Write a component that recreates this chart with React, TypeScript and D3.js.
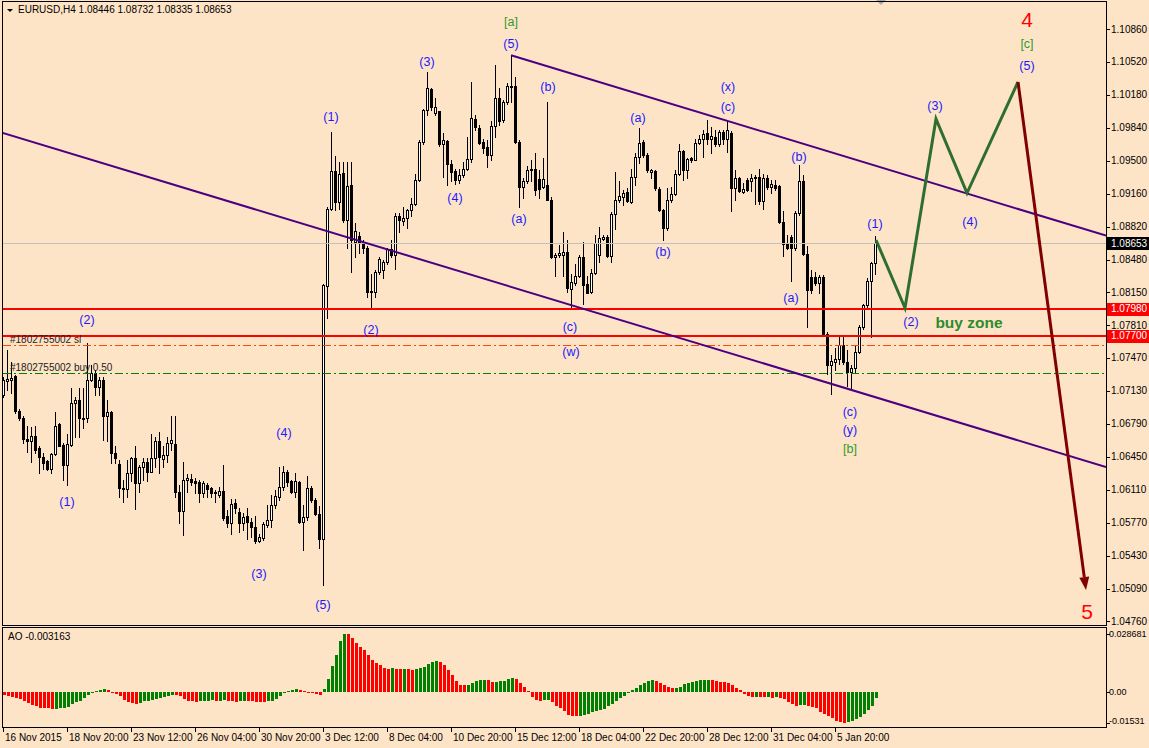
import React from 'react';
import * as d3 from 'd3';

const W = 1149;
const H = 748;
const FONT = "'Liberation Sans', Arial, sans-serif";

// EURUSD H4 bars, [open, high, low, close], 16 Nov 2015 .. 6 Jan 2016
const CANDLES: [number, number, number, number][] = [
  [1.0709, 1.0727, 1.0707, 1.0724], [1.0723, 1.0755, 1.0714, 1.0725], [1.0724, 1.0743, 1.0711, 1.0726],
  [1.0728, 1.0729, 1.069, 1.0692], [1.0692, 1.0694, 1.0683, 1.0685], [1.0685, 1.0687, 1.0659, 1.0664],
  [1.0664, 1.0677, 1.065, 1.0661], [1.0661, 1.0676, 1.064, 1.0667], [1.0667, 1.0677, 1.0649, 1.0652],
  [1.0654, 1.0656, 1.0629, 1.0645], [1.0645, 1.0649, 1.0633, 1.0639], [1.0641, 1.0642, 1.0632, 1.0633],
  [1.0633, 1.0649, 1.0629, 1.0648], [1.0648, 1.0691, 1.0647, 1.0677], [1.0679, 1.068, 1.0656, 1.0656],
  [1.0657, 1.0659, 1.0621, 1.0637], [1.0637, 1.0669, 1.0616, 1.0658], [1.0657, 1.0716, 1.0656, 1.0701],
  [1.0701, 1.0707, 1.0666, 1.0704], [1.0704, 1.0716, 1.0666, 1.0685], [1.0685, 1.0716, 1.0675, 1.0684],
  [1.0685, 1.0762, 1.0681, 1.0724], [1.0724, 1.074, 1.0723, 1.0732], [1.0732, 1.0735, 1.0709, 1.0717],
  [1.0717, 1.0727, 1.0709, 1.0724], [1.0724, 1.0727, 1.0663, 1.0687], [1.0687, 1.0704, 1.0661, 1.0691],
  [1.0691, 1.0692, 1.0639, 1.0649], [1.0649, 1.0656, 1.0639, 1.0644], [1.0638, 1.0642, 1.0604, 1.0613],
  [1.0613, 1.0621, 1.0599, 1.0612], [1.0612, 1.0642, 1.0604, 1.0629], [1.0629, 1.0645, 1.062, 1.0644],
  [1.0644, 1.0656, 1.0591, 1.0618], [1.0618, 1.0637, 1.0609, 1.0635], [1.0635, 1.0644, 1.0621, 1.064],
  [1.064, 1.0644, 1.062, 1.063], [1.063, 1.0669, 1.063, 1.0644], [1.0644, 1.0666, 1.0635, 1.0661],
  [1.0661, 1.0671, 1.0628, 1.0645], [1.0643, 1.0656, 1.0635, 1.0647], [1.0647, 1.0666, 1.064, 1.0659],
  [1.0659, 1.0687, 1.0652, 1.0663], [1.0658, 1.0687, 1.0604, 1.0609], [1.0609, 1.0616, 1.0577, 1.0589],
  [1.0589, 1.064, 1.0565, 1.0621], [1.0621, 1.0627, 1.0609, 1.0623], [1.0622, 1.0627, 1.0616, 1.0619],
  [1.062, 1.0623, 1.0608, 1.0618], [1.0619, 1.0621, 1.0599, 1.0608], [1.0608, 1.062, 1.0604, 1.0618],
  [1.0616, 1.0618, 1.0604, 1.0612], [1.0613, 1.0614, 1.0604, 1.0608], [1.0609, 1.0611, 1.0599, 1.0608],
  [1.0606, 1.0614, 1.0604, 1.061], [1.061, 1.0637, 1.058, 1.0582], [1.0584, 1.059, 1.0573, 1.0577],
  [1.0577, 1.0602, 1.0566, 1.0597], [1.0598, 1.0602, 1.0587, 1.0592], [1.0588, 1.0592, 1.0568, 1.0577],
  [1.0577, 1.0587, 1.057, 1.0583], [1.0584, 1.0592, 1.0561, 1.0578], [1.0578, 1.0582, 1.0563, 1.0573],
  [1.0573, 1.0584, 1.0556, 1.0558], [1.0558, 1.0566, 1.0557, 1.0563], [1.0562, 1.0578, 1.0559, 1.0576],
  [1.0575, 1.0596, 1.0573, 1.058], [1.058, 1.0606, 1.0573, 1.0596], [1.0596, 1.0611, 1.0592, 1.0605],
  [1.0604, 1.0635, 1.0601, 1.0614], [1.0614, 1.0636, 1.0611, 1.063], [1.063, 1.0632, 1.0615, 1.0619],
  [1.062, 1.0621, 1.0608, 1.0609], [1.0609, 1.0628, 1.0604, 1.062], [1.0619, 1.062, 1.0577, 1.0578],
  [1.0578, 1.0596, 1.0549, 1.0583], [1.0583, 1.0625, 1.058, 1.0613], [1.0613, 1.0615, 1.0599, 1.0601],
  [1.0601, 1.0603, 1.0585, 1.0586], [1.0586, 1.0594, 1.0551, 1.056], [1.056, 1.0823, 1.0513, 1.0822],
  [1.0821, 1.0903, 1.0788, 1.0901], [1.0901, 1.098, 1.0899, 1.094], [1.094, 1.0955, 1.0899, 1.0908],
  [1.0908, 1.0949, 1.0901, 1.0937], [1.0938, 1.0949, 1.0887, 1.0889], [1.0889, 1.0949, 1.086, 1.0924],
  [1.0925, 1.0949, 1.0836, 1.0869], [1.0867, 1.0886, 1.0851, 1.0878], [1.0873, 1.0877, 1.0855, 1.0865],
  [1.0867, 1.0869, 1.0855, 1.086], [1.086, 1.0862, 1.081, 1.0815], [1.0815, 1.0834, 1.0797, 1.0816],
  [1.0815, 1.0838, 1.081, 1.0836], [1.0836, 1.0851, 1.0834, 1.0849], [1.0838, 1.0848, 1.0829, 1.0846],
  [1.0846, 1.086, 1.0844, 1.0859], [1.0859, 1.0869, 1.0851, 1.0853], [1.0853, 1.0896, 1.0839, 1.0893],
  [1.0893, 1.0896, 1.0877, 1.0889], [1.0888, 1.0903, 1.0884, 1.0891], [1.0891, 1.0901, 1.0881, 1.0899],
  [1.0899, 1.0912, 1.0893, 1.0906], [1.0906, 1.0937, 1.0905, 1.093], [1.093, 1.0972, 1.0929, 1.097],
  [1.097, 1.1004, 1.0968, 1.1003], [1.1003, 1.1042, 1.0997, 1.1025], [1.1024, 1.1025, 1.1003, 1.1006],
  [1.0999, 1.1015, 1.0997, 1.1006], [1.1001, 1.1002, 1.0965, 1.0967], [1.0967, 1.0979, 1.0934, 1.0972],
  [1.0971, 1.0972, 1.0925, 1.0947], [1.0947, 1.0951, 1.0929, 1.0939], [1.094, 1.0942, 1.0926, 1.093],
  [1.093, 1.0942, 1.0927, 1.0936], [1.0936, 1.0949, 1.0934, 1.0942], [1.0942, 1.0975, 1.0941, 1.0952],
  [1.0952, 1.1031, 1.0949, 1.0994], [1.0993, 1.0997, 1.0982, 1.0985], [1.0984, 1.0987, 1.0967, 1.0969],
  [1.097, 1.0973, 1.0958, 1.0963], [1.0964, 1.0972, 1.0944, 1.0956], [1.0956, 1.0991, 1.0951, 1.0986],
  [1.0986, 1.1049, 1.0975, 1.1015], [1.1015, 1.1025, 1.0987, 1.0991], [1.0992, 1.1013, 1.099, 1.1011],
  [1.1011, 1.103, 1.1009, 1.1027], [1.1027, 1.1058, 1.1011, 1.1026], [1.1027, 1.1037, 1.0969, 1.097],
  [1.097, 1.0972, 1.0903, 1.0923], [1.0923, 1.0932, 1.0912, 1.0929], [1.0929, 1.0945, 1.0927, 1.0941],
  [1.0941, 1.0951, 1.0929, 1.0942], [1.0942, 1.0958, 1.0915, 1.092], [1.0931, 1.0941, 1.0912, 1.0921],
  [1.0923, 1.0953, 1.0922, 1.0931], [1.0925, 1.1011, 1.091, 1.091], [1.091, 1.0913, 1.085, 1.0851],
  [1.0851, 1.0855, 1.0831, 1.0853], [1.0853, 1.0863, 1.0851, 1.0855], [1.0853, 1.0877, 1.0831, 1.0856],
  [1.0856, 1.0869, 1.0815, 1.0819], [1.0818, 1.0834, 1.08, 1.0825], [1.0824, 1.0844, 1.0822, 1.0832],
  [1.0832, 1.0853, 1.083, 1.0851], [1.0851, 1.0867, 1.0803, 1.0822], [1.0823, 1.0831, 1.0814, 1.0814],
  [1.0815, 1.0839, 1.0814, 1.0835], [1.0835, 1.0874, 1.0834, 1.0866], [1.0853, 1.0882, 1.0846, 1.0871],
  [1.087, 1.0874, 1.0869, 1.0872], [1.0872, 1.0874, 1.0851, 1.0852], [1.0852, 1.0897, 1.0846, 1.0895],
  [1.0895, 1.0939, 1.088, 1.091], [1.091, 1.0929, 1.0908, 1.0914], [1.0913, 1.092, 1.0905, 1.0917],
  [1.0918, 1.0922, 1.0908, 1.0909], [1.0908, 1.0942, 1.0907, 1.0934], [1.0934, 1.0958, 1.0925, 1.0954],
  [1.0954, 1.0984, 1.0948, 1.0969], [1.097, 1.0972, 1.0954, 1.0956], [1.0956, 1.0958, 1.0939, 1.0941],
  [1.0939, 1.0942, 1.0932, 1.0941], [1.094, 1.0941, 1.092, 1.0922], [1.0921, 1.0923, 1.0898, 1.0899],
  [1.0899, 1.0901, 1.0869, 1.0881], [1.0881, 1.0922, 1.0879, 1.091], [1.091, 1.0923, 1.0908, 1.0916],
  [1.0916, 1.0941, 1.0915, 1.0937], [1.0937, 1.0968, 1.0936, 1.096], [1.096, 1.0961, 1.093, 1.0941],
  [1.0941, 1.0953, 1.0932, 1.0952], [1.0953, 1.0954, 1.0949, 1.0951], [1.0951, 1.0973, 1.0951, 1.0969],
  [1.0969, 1.0977, 1.0967, 1.0973], [1.0973, 1.0982, 1.0954, 1.0978], [1.0979, 1.0992, 1.0967, 1.0973],
  [1.0973, 1.0985, 1.0958, 1.0976], [1.0975, 1.0982, 1.0965, 1.0967], [1.0967, 1.0982, 1.0965, 1.098],
  [1.098, 1.0982, 1.0967, 1.0973], [1.0973, 1.0992, 1.0959, 1.0982], [1.0979, 1.0981, 1.0898, 1.0922],
  [1.0922, 1.0941, 1.091, 1.0932], [1.0932, 1.0933, 1.0918, 1.0919], [1.0918, 1.0927, 1.0917, 1.0921],
  [1.093, 1.0932, 1.0919, 1.092], [1.0929, 1.0937, 1.0919, 1.0932], [1.0932, 1.0936, 1.0906, 1.0934],
  [1.0934, 1.0942, 1.0906, 1.0909], [1.0909, 1.0937, 1.0901, 1.0932], [1.0932, 1.0936, 1.0921, 1.0923],
  [1.0923, 1.093, 1.0917, 1.0926], [1.0925, 1.093, 1.092, 1.0922], [1.0924, 1.0925, 1.0886, 1.0887],
  [1.0887, 1.0898, 1.0852, 1.0864], [1.0865, 1.0874, 1.0859, 1.086], [1.0872, 1.0874, 1.0826, 1.086],
  [1.086, 1.0898, 1.0858, 1.0896], [1.0896, 1.0946, 1.0894, 1.0929], [1.0929, 1.0936, 1.0853, 1.0854],
  [1.0854, 1.0862, 1.0779, 1.0817], [1.083, 1.0838, 1.0814, 1.0817], [1.083, 1.0836, 1.0822, 1.0824],
  [1.0824, 1.0833, 1.0814, 1.083], [1.083, 1.0833, 1.0771, 1.0771], [1.0772, 1.0774, 1.0731, 1.074],
  [1.074, 1.075, 1.071, 1.0744], [1.0743, 1.0757, 1.0735, 1.0746], [1.0746, 1.0771, 1.0741, 1.076],
  [1.076, 1.0771, 1.0741, 1.0743], [1.0743, 1.0755, 1.0718, 1.0733], [1.0733, 1.074, 1.0714, 1.0737],
  [1.0737, 1.0759, 1.0733, 1.0753], [1.0753, 1.0781, 1.0752, 1.0779], [1.0779, 1.0803, 1.0777, 1.0802],
  [1.0802, 1.0829, 1.08, 1.0826], [1.0826, 1.0846, 1.0769, 1.0845], [1.08446, 1.08732, 1.08335, 1.08653],
];

// Awesome Oscillator, one value per bar
const AO = [
  -0.0013, -0.00211, -0.00259, -0.00308, -0.00324, -0.00421, -0.00535, -0.00648, -0.00713, -0.00778,
  -0.00794, -0.0081, -0.00859, -0.00826, -0.0081, -0.00778, -0.00729, -0.00616, -0.00486, -0.00421,
  -0.00292, -0.00162, -0.00065, 0.00065, 0.00097, 0.00146, 0.00097, -0.0001, -0.00097, -0.00211,
  -0.00373, -0.00486, -0.00551, -0.00616, -0.00518, -0.00454, -0.00421, -0.00373, -0.00324, -0.00292,
  -0.00259, -0.00211, -0.0013, -0.00162, -0.00211, -0.00324, -0.00421, -0.00454, -0.00486, -0.00454,
  -0.00437, -0.00421, -0.00405, -0.00437, -0.00421, -0.00405, -0.00437, -0.00454, -0.0047, -0.00437,
  -0.00421, -0.00437, -0.00454, -0.0047, -0.00486, -0.00494, -0.00454, -0.00421, -0.00324, -0.00194,
  -0.00049, 0.00049, 0.00097, 0.0013, 0.00097, 0.00032, -0.00032, -0.00049, -0.00081, -0.0013,
  0.00146, 0.00632, 0.01264, 0.01847, 0.02527, 0.02868, 0.02851, 0.02673, 0.0243, 0.02236,
  0.02074, 0.01847, 0.01604, 0.01458, 0.01312, 0.01199, 0.01118, 0.01166, 0.01134, 0.01118,
  0.01134, 0.01118, 0.01102, 0.01118, 0.01166, 0.01215, 0.01409, 0.01507, 0.01555, 0.01507,
  0.01312, 0.01069, 0.00826, 0.00535, 0.0034, 0.00324, 0.00356, 0.00437, 0.00535, 0.00583,
  0.00599, 0.00583, 0.00486, 0.00518, 0.00535, 0.00551, 0.00632, 0.0068, 0.00632, 0.00437,
  0.00243, 0.00049, -0.00243, -0.00389, -0.00437, -0.00389, -0.00373, -0.00486, -0.0068, -0.00778,
  -0.00923, -0.01118, -0.01166, -0.01183, -0.01166, -0.01118, -0.01069, -0.01004, -0.00956, -0.00907,
  -0.00842, -0.0068, -0.00583, -0.00421, -0.00292, -0.00194, -0.00049, 0.00097, 0.00194, 0.0034,
  0.00437, 0.00535, 0.00583, 0.00567, 0.00437, 0.0034, 0.00243, 0.00194, 0.00211, 0.00243,
  0.00389, 0.00437, 0.00486, 0.00535, 0.00583, 0.00591, 0.00599, 0.00583, 0.00535, 0.00518,
  0.00486, 0.00437, 0.0034, 0.00194, 0.00097, -0.00097, -0.00194, -0.00243, -0.00227, -0.00243,
  -0.00251, -0.00227, -0.00292, -0.00243, -0.00292, -0.0034, -0.00486, -0.00583, -0.0068, -0.00664,
  -0.00632, -0.0068, -0.00729, -0.00778, -0.00972, -0.01069, -0.01166, -0.01264, -0.01409, -0.01458,
  -0.01531, -0.0149, -0.01409, -0.01312, -0.01215, -0.01069, -0.00875, -0.0068, -0.00316,
];

const PRICE_TICKS = [
  1.1086, 1.1052, 1.1018, 1.0984, 1.095, 1.0916, 1.0882, 1.0848, 1.0815, 1.0781,
  1.0747, 1.0713, 1.0679, 1.0645, 1.0611, 1.0577, 1.0543, 1.0509, 1.0476,
];
const TIME_TICK_BARS = [0, 16, 32, 48, 64, 80, 96, 112, 128, 144, 160, 176, 192, 208];
const TIME_TICK_LABELS = [
  '16 Nov 2015', '18 Nov 20:00', '23 Nov 12:00', '26 Nov 04:00', '30 Nov 20:00', '3 Dec 12:00',
  '8 Dec 04:00', '10 Dec 20:00', '15 Dec 12:00', '18 Dec 04:00', '22 Dec 20:00', '28 Dec 12:00',
  '31 Dec 04:00', '5 Jan 20:00',
];
const AO_TICKS = [0.028681, 0, -0.01531];
const AO_TICK_LABELS = ['0.028681', '0.00', '-0.01531'];

const LAST_PRICE = 1.08653;
const BUY_ZONE = [1.0798, 1.077];
const ORDER_SL = 1.07604;
const ORDER_BUY = 1.07316;

// trend channel anchors [bar, price]
const LOWER_CHANNEL: [number, number][] = [[0, 1.09788], [142, 1.08016]];
const UPPER_CHANNEL: [number, number][] = [[127, 1.1059], [181, 1.09915]];
// projected wave path and final arrow [bar, price]
const PROJECTION: [number, number][] = [[218.25, 1.08686], [225.5, 1.07985], [233.25, 1.09933], [241, 1.0917], [253.75, 1.10314]];
const TARGET_ARROW: [number, number][] = [[253.75, 1.10314], [270.75, 1.05079]];

// wave labels [text, bar, price]
const BLUE_LABELS: [string, number, number][] = [
  ['(5)', 127, 1.10705], ['(3)', 106, 1.1052], ['(1)', 82, 1.09953], ['(b)', 136.25, 1.10262],
  ['(x)', 181.25, 1.10262], ['(c)', 181.25, 1.10056], ['(a)', 158.75, 1.09943], ['(b)', 199, 1.09541],
  ['(4)', 113, 1.09119], ['(a)', 129, 1.08902], ['(b)', 165, 1.08562], ['(1)', 218, 1.08851],
  ['(4)', 241.75, 1.08871], ['(3)', 233, 1.10067], ['(5)', 256, 1.10479], ['(a)', 197, 1.08088],
  ['(2)', 227, 1.07841], ['(2)', 92, 1.07758], ['(c)', 141.75, 1.07789], ['(w)', 142, 1.07532],
  ['(2)', 21, 1.07862], ['(c)', 211.75, 1.06914], ['(y)', 211.75, 1.06728], ['(4)', 70.25, 1.06697],
  ['(1)', 16, 1.05986], ['(3)', 64, 1.05244], ['(5)', 80, 1.04925],
];
const GREEN_LABELS: [string, number, number][] = [
  ['[a]', 127, 1.10932], ['[c]', 256, 1.10705], ['[b]', 211.75, 1.06532],
];
const RED_LABELS: [string, number, number][] = [['4', 256, 1.10953], ['5', 271, 1.04863]];

const PLOT_RIGHT = 1106;
const MAIN_BOTTOM = 625;
const AO_TOP = 627;
const AO_BOTTOM = 727;

const x = d3.scaleLinear().domain([0, 1]).range([3, 7]);
const y = d3.scaleLinear().domain([1.0476, 1.1086]).range([621, 29]);
const aoY = d3.scaleLinear().domain([-0.01531, 0.028681]).range([723, 634]);

const extendLine = (pts: [number, number][], from: number, to: number): [number, number][] => {
  const [[b0, p0], [b1, p1]] = pts;
  const k = (p1 - p0) / (b1 - b0);
  return [[from, p0 + k * (from - b0)], [to, p0 + k * (to - b0)]];
};

const line = d3.line<[number, number]>().x((d) => x(d[0])).y((d) => y(d[1]));

export default function App() {
  const rightBar = x.invert(PLOT_RIGHT);
  const lower = extendLine(LOWER_CHANNEL, x.invert(0), rightBar);
  const upper = extendLine(UPPER_CHANNEL, UPPER_CHANNEL[0][0], rightBar);

  const [a0, a1] = TARGET_ARROW;
  const ax0 = x(a0[0]), ay0 = y(a0[1]), ax1 = x(a1[0]), ay1 = y(a1[1]);
  const ang = Math.atan2(ay1 - ay0, ax1 - ax0);
  const headLen = 13, headW = 5;
  const bx = ax1 - headLen * Math.cos(ang), by = ay1 - headLen * Math.sin(ang);
  const head = [
    [ax1, ay1],
    [bx + headW * Math.sin(ang), by - headW * Math.cos(ang)],
    [bx - headW * Math.sin(ang), by + headW * Math.cos(ang)],
  ].map((p) => p.join(',')).join(' ');

  const hline = (price: number) => Math.round(y(price)) + 0.5;

  return (
    <div style={{ position: 'absolute', left: 0, top: 0 }}>
      <svg width={W} height={H} style={{ display: 'block', fontFamily: FONT }}>
        <rect width={W} height={H} fill="#fee4c6" />
        <defs>
          <clipPath id="main-clip">
            <rect x={3} y={2} width={PLOT_RIGHT - 3} height={MAIN_BOTTOM - 2} />
          </clipPath>
        </defs>

        {/* candles */}
        <g shapeRendering="crispEdges">
          {CANDLES.map(([o, h, l, c], i) => {
            const px = Math.round(x(i));
            const top = Math.round(y(Math.max(o, c)));
            const bot = Math.round(y(Math.min(o, c)));
            const bull = c >= o;
            return (
              <g key={i}>
                <line x1={px + 0.5} x2={px + 0.5} y1={Math.round(y(h))} y2={Math.round(y(l)) + 1} stroke="#000" />
                <rect x={px - 0.5} y={top + 0.5} width={2} height={Math.max(0, bot - top)}
                  fill={bull ? '#fff' : '#000'} stroke="#000" />
              </g>
            );
          })}
        </g>

        {/* horizontal levels */}
        <g shapeRendering="crispEdges">
          <line x1={3} x2={PLOT_RIGHT} y1={hline(LAST_PRICE)} y2={hline(LAST_PRICE)} stroke="#c0c0c0" />
          {BUY_ZONE.map((p) => (
            <line key={p} x1={3} x2={PLOT_RIGHT} y1={Math.round(y(p))} y2={Math.round(y(p))} stroke="#ff0000" strokeWidth={2} />
          ))}
          <line x1={3} x2={PLOT_RIGHT} y1={hline(ORDER_SL)} y2={hline(ORDER_SL)} stroke="#ff4500" strokeDasharray="8,3,2,3" />
          <line x1={3} x2={PLOT_RIGHT} y1={hline(ORDER_BUY)} y2={hline(ORDER_BUY)} stroke="#008000" strokeDasharray="8,3,2,3" />
        </g>
        <text x={10} y={hline(ORDER_SL) - 3} fontSize={10} fill="#222">#1802755002 sl</text>
        <text x={10} y={hline(ORDER_BUY) - 3} fontSize={10} fill="#222">#1802755002 buy 0.50</text>

        {/* channel, projection, arrow */}
        <g clipPath="url(#main-clip)">
          <path d={line(lower) ?? ''} stroke="#4b0082" strokeWidth={2} fill="none" />
          <path d={line(upper) ?? ''} stroke="#4b0082" strokeWidth={2} fill="none" />
          <path d={line(PROJECTION) ?? ''} stroke="#2f6e2f" strokeWidth={3} fill="none" strokeLinejoin="miter" />
          <line x1={ax0} y1={ay0} x2={bx} y2={by} stroke="#800000" strokeWidth={3} />
          <polygon points={head} fill="#800000" />
        </g>

        {/* wave labels */}
        <g fontSize={12.5} textAnchor="middle" dominantBaseline="central">
          {BLUE_LABELS.map(([t, b, p], i) => (
            <text key={i} x={x(b)} y={y(p)} fill="#1a1aff">{t}</text>
          ))}
          {GREEN_LABELS.map(([t, b, p], i) => (
            <text key={i} x={x(b)} y={y(p)} fill="#2f9a2f">{t}</text>
          ))}
          {RED_LABELS.map(([t, b, p], i) => (
            <text key={i} x={x(b)} y={y(p)} fill="#ff0000" fontSize={21}>{t}</text>
          ))}
        </g>
        <text x={969} y={y(BUY_ZONE[1]) - 13} textAnchor="middle" dominantBaseline="central"
          fontSize={15.5} fontWeight="bold" fill="#2e8b2e">buy zone</text>

        {/* header */}
        <polygon points="7,9 13,9 10,12" fill="#000" />
        <text x={18} y={13} fontSize={10} fill="#000">EURUSD,H4  1.08446 1.08732 1.08335 1.08653</text>
        <polygon points="876,0 886,0 881,5" fill="#a9a9a9" />

        {/* AO histogram */}
        <g shapeRendering="crispEdges">
          {AO.map((v, i) => {
            const px = Math.round(x(i));
            const y0 = aoY(0);
            const yv = aoY(v);
            const up = i > 0 && v > AO[i - 1];
            return (
              <rect key={i} x={px} y={Math.min(y0, yv)} width={3}
                height={Math.max(1, Math.abs(yv - y0))} fill={up ? '#008000' : '#ff0000'} />
            );
          })}
        </g>
        <text x={8} y={640} fontSize={10} fill="#000">AO -0.003163</text>

        {/* frames */}
        <g shapeRendering="crispEdges" stroke="#000" fill="none">
          <rect x={2.5} y={1.5} width={PLOT_RIGHT - 2} height={MAIN_BOTTOM - 1} />
          <rect x={2.5} y={AO_TOP + 0.5} width={PLOT_RIGHT - 2} height={AO_BOTTOM - AO_TOP} />
        </g>

        {/* price axis */}
        <g fontSize={10} fill="#000" shapeRendering="crispEdges">
          {PRICE_TICKS.map((p) => (
            <g key={p}>
              <line x1={PLOT_RIGHT} x2={PLOT_RIGHT + 4} y1={hline(p)} y2={hline(p)} stroke="#000" />
              <text x={1111} y={y(p)} dominantBaseline="central">{p.toFixed(5)}</text>
            </g>
          ))}
          {[[LAST_PRICE, '#000'], [BUY_ZONE[0], '#ff0000'], [BUY_ZONE[1], '#ff0000']].map(([p, col]) => (
            <g key={String(p)}>
              <rect x={PLOT_RIGHT + 1} y={Math.round(y(p as number)) - 6} width={W - PLOT_RIGHT - 1} height={13} fill={col as string} />
              <text x={1111} y={y(p as number)} dominantBaseline="central" fill="#fff">{(p as number).toFixed(5)}</text>
            </g>
          ))}
          {AO_TICKS.map((v, i) => (
            <g key={i}>
              <line x1={PLOT_RIGHT} x2={PLOT_RIGHT + 4} y1={Math.round(aoY(v)) + 0.5} y2={Math.round(aoY(v)) + 0.5} stroke="#000" />
              <text x={1109} y={Math.min(aoY(v), 721)} dominantBaseline="central" fontSize={9}>{AO_TICK_LABELS[i]}</text>
            </g>
          ))}
        </g>

        {/* time axis */}
        <g fontSize={10} fill="#000" shapeRendering="crispEdges">
          {TIME_TICK_BARS.map((b, i) => (
            <g key={b}>
              <line x1={Math.round(x(b)) + 0.5} x2={Math.round(x(b)) + 0.5} y1={AO_BOTTOM} y2={AO_BOTTOM + 5} stroke="#000" />
              <text x={Math.round(x(b)) + 2} y={741}>{TIME_TICK_LABELS[i]}</text>
            </g>
          ))}
        </g>
      </svg>
    </div>
  );
}
